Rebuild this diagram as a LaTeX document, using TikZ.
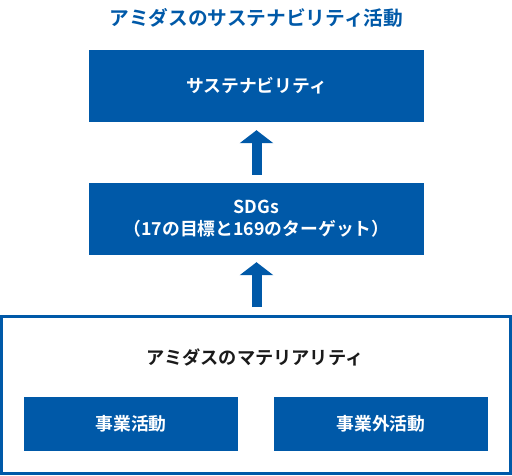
\documentclass[tikz,border=0pt]{standalone}
\usepackage{fontspec}
\setmainfont{Noto Sans CJK JP}[BoldFont={* Bold}]
\usetikzlibrary{arrows.meta,positioning}
\definecolor{amblue}{HTML}{0059A8}
\definecolor{amtext}{HTML}{1A1A1A}

\begin{document}
\begin{tikzpicture}[x=1pt,y=-1pt,
  bluebox/.style={fill=amblue,text=white,font=\bfseries\fontsize{17.8}{22}\selectfont,align=center,inner sep=0pt},
  upflow/.style={draw=amblue,line width=10pt,-{Triangle[width=33pt,length=13pt]}}]
\useasboundingbox (0,0) rectangle (512,475);

\node (title) at (256.5,18) [text=amblue,font=\bfseries\fontsize{19.7}{22}\selectfont] {アミダスのサステナビリティ活動};

\node (sus) at (256.5,86) [bluebox,minimum width=335pt,minimum height=72pt] {サステナビリティ};
\node (sdg) at (256.5,219) [bluebox,minimum width=335pt,minimum height=72pt] {SDGs\\（17の目標と169のターゲット）};

\node (mat) at (256,395) [draw=amblue,line width=3pt,minimum width=509pt,minimum height=157pt] {};
\node (matlabel) at (255,357) [text=amtext,font=\bfseries\fontsize{18.2}{22}\selectfont] {アミダスのマテリアリティ};
\node (biz) at (131,424) [bluebox,minimum width=214pt,minimum height=54pt] {事業活動};
\node (ext) at (381,424) [bluebox,minimum width=214pt,minimum height=54pt] {事業外活動};

\draw[upflow,shorten <=8pt,shorten >=8pt] (sdg.north) -- (sus.south);
\draw[upflow,shorten <=8pt,shorten >=7pt] (mat.north -| sdg.south) -- (sdg.south);
\end{tikzpicture}
\end{document}
